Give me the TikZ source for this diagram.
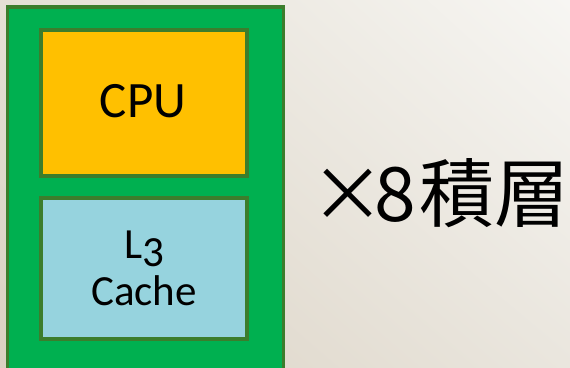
\documentclass[tikz,border=0pt]{standalone}
\usepackage{fontspec}
\usetikzlibrary{shadings}
\setmainfont{Carlito}
\newfontfamily\cjkjp{Noto Sans CJK JP}
\definecolor{boardgreen}{HTML}{00B050}
\definecolor{edgegreen}{HTML}{3C7D2C}
\definecolor{cpuorange}{HTML}{FFC000}
\definecolor{cacheblue}{HTML}{96D3DE}
\definecolor{bgll}{HTML}{DAD1C2}
\definecolor{bgul}{HTML}{E5E0D5}
\definecolor{bglr}{HTML}{EAE6DE}
\definecolor{bgur}{HTML}{F7F6F3}
\tikzset{
  chipbox/.style={draw=edgegreen, line width=3.5pt, inner sep=0pt, outer sep=0pt, anchor=north west},
  label text/.style={inner sep=0pt, anchor=base},
}
\begin{document}
\begin{tikzpicture}[x=1pt,y=-1pt]
\useasboundingbox (0,0) rectangle (570,367);
\shade[upper left=bgul, upper right=bgur, lower left=bgll, lower right=bglr] (0,0) rectangle (570,367);
\begin{scope}
\clip (0,0) rectangle (570,367);
\node[chipbox, fill=boardgreen, minimum width=276pt, minimum height=400pt] (board) at (7.5,7) {};
\end{scope}
\node[chipbox, fill=cpuorange, minimum width=206pt, minimum height=146pt] (cpu) at (41,30) {};
\node[chipbox, fill=cacheblue, minimum width=206pt, minimum height=141pt] (cache) at (41,198) {};
\node[label text, font=\fontsize{51}{51}\selectfont] (cputext) at (143,117) {CPU};
\node[label text, font=\fontsize{43}{43}\selectfont] (l3text) at (144,258) {L\raisebox{-8pt}{3}};
\node[label text, font=\fontsize{43}{43}\selectfont] (cachetext) at (144,305) {Cache};
\node[inner sep=0pt, anchor=base west, font=\cjkjp\fontsize{75}{75}\selectfont] (stack) at (310,221) {×\kern-11pt 8\kern4pt 積層};
\end{tikzpicture}
\end{document}
